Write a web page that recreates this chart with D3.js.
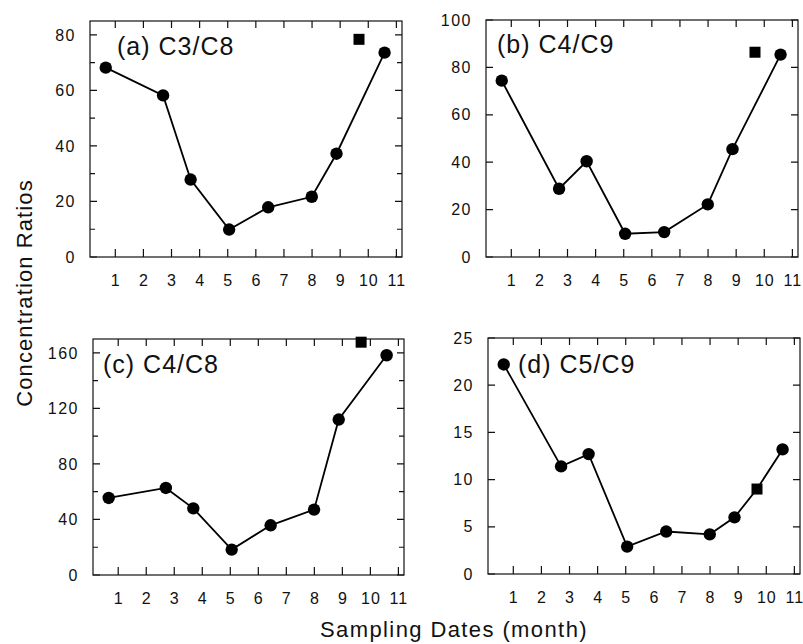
<!DOCTYPE html>
<html>
<head>
<meta charset="utf-8">
<script src="https://cdn.jsdelivr.net/npm/d3@7"></script>
<style>
  html, body { margin: 0; padding: 0; background: #fff; }
  svg { display: block; }
  text { font-family: Arial, "Liberation Sans", Helvetica, sans-serif; fill: #111; }
</style>
</head>
<body>
<svg id="chart" width="803" height="644"></svg>
<script>
// Sampling dates (month index) shared by all four ratios
const sampleMonths = [0.66, 2.70, 3.68, 5.05, 6.44, 7.99, 8.87, 10.58];
// Extra sample (square marker) taken between months 9 and 11
const extraMonth = 9.67;
const monthTicks = [1, 2, 3, 4, 5, 6, 7, 8, 9, 10, 11];

// Concentration ratios per panel
const ratioC3C8 = [68.2, 58.2, 27.9, 9.9, 17.9, 21.7, 37.2, 73.6];
const ratioC4C9 = [74.4, 28.8, 40.4, 9.8, 10.5, 22.2, 45.5, 85.4];
const ratioC4C8 = [55.5, 62.7, 48.0, 18.3, 35.8, 47.1, 112.0, 158.3];
const ratioC5C9 = [22.2, 11.4, 12.7, 2.9, 4.5, 4.2, 6.0, 13.2];
// Value of the extra sample for each ratio
const extraValues = [78.4, 86.4, 167.7, 9.0];

const panelTitles = ["(a) C3/C8", "(b) C4/C9", "(c) C4/C8", "(d) C5/C9"];
const yMax = [85, 100, 170, 25];
const yTickLabels = [[0, 20, 40, 60, 80], [0, 20, 40, 60, 80, 100], [0, 40, 80, 120, 160], [0, 5, 10, 15, 20, 25]];
const yMinorTicks = [[10, 30, 50, 70], [], [20, 60, 100, 140], []];
// Whether the extra sample is joined into the line
const extraJoined = [false, false, false, true];

// Frame of each panel in the page
const layout = [
  { x: 90,  y: 21,  w: 312, h: 236, tx: 27, ty: 34 },
  { x: 486, y: 20,  w: 312, h: 237, tx: 11, ty: 33 },
  { x: 93,  y: 339, w: 311, h: 236, tx: 10, ty: 34 },
  { x: 488, y: 338, w: 312, h: 236, tx: 30, ty: 35 }
];

const series = [ratioC3C8, ratioC4C9, ratioC4C8, ratioC5C9];
const svg = d3.select("#chart");
const tickColor = "#111";

series.forEach((vals, i) => {
  const L = layout[i];
  const g = svg.append("g").attr("transform", `translate(${L.x},${L.y})`);
  const x = d3.scaleLinear().domain([0.1, 11.2]).range([0, L.w]);
  const y = d3.scaleLinear().domain([0, yMax[i]]).range([L.h, 0]);

  // frame
  g.append("rect").attr("width", L.w).attr("height", L.h)
    .attr("fill", "none").attr("stroke", tickColor).attr("stroke-width", 1.2);

  // inward tick marks on all four sides
  const majorY = yTickLabels[i], minorY = yMinorTicks[i];
  let d = "";
  monthTicks.forEach(t => {
    const px = x(t);
    d += `M${px},${L.h}V${L.h - 8}M${px},0V7`;
  });
  majorY.forEach(v => { const py = y(v); d += `M0,${py}H7M${L.w},${py}H${L.w - 7}`; });
  minorY.forEach(v => { const py = y(v); d += `M0,${py}H5M${L.w},${py}H${L.w - 5}`; });
  g.append("path").attr("d", d).attr("fill", "none")
    .attr("stroke", tickColor).attr("stroke-width", 1.2);

  // tick labels from the axis generators
  const xb = g.append("g").attr("transform", `translate(0,${L.h})`)
    .call(d3.axisBottom(x).tickValues(monthTicks).tickSize(0).tickPadding(18));
  const yl = g.append("g")
    .call(d3.axisLeft(y).tickValues(majorY).tickSize(0).tickPadding(14));
  xb.select(".domain").remove();
  yl.select(".domain").remove();
  [xb, yl].forEach(a => a.selectAll(".tick text").attr("font-size", 16).attr("fill", "#111")
    .attr("font-family", "Arial, 'Liberation Sans', sans-serif"));
  xb.selectAll(".tick text").attr("letter-spacing", 1);
  yl.selectAll(".tick text").attr("letter-spacing", 1.5);

  // line through the samples
  let pts = sampleMonths.map((m, k) => ({ m, v: vals[k] }));
  if (extraJoined[i]) {
    pts = pts.concat([{ m: extraMonth, v: extraValues[i] }]).sort((a, b) => a.m - b.m);
  }
  const line = d3.line().x(p => x(p.m)).y(p => y(p.v));
  g.append("path").datum(pts).attr("d", line)
    .attr("fill", "none").attr("stroke", "#000").attr("stroke-width", 1.8);

  g.selectAll("circle.pt").data(sampleMonths.map((m, k) => ({ m, v: vals[k] })))
    .join("circle").attr("class", "pt")
    .attr("cx", p => x(p.m)).attr("cy", p => y(p.v)).attr("r", 6.2).attr("fill", "#000");

  const sq = 11;
  g.append("rect")
    .attr("x", x(extraMonth) - sq / 2).attr("y", y(extraValues[i]) - sq / 2)
    .attr("width", sq).attr("height", sq).attr("fill", "#000");

  g.append("text").attr("x", L.tx).attr("y", L.ty)
    .attr("font-size", 25).attr("letter-spacing", 1).text(panelTitles[i]);
});

svg.append("text")
  .attr("transform", "translate(32,293) rotate(-90)")
  .attr("text-anchor", "middle").attr("font-size", 22).attr("letter-spacing", 1.1)
  .text("Concentration Ratios");

svg.append("text")
  .attr("x", 454).attr("y", 637)
  .attr("text-anchor", "middle").attr("font-size", 22).attr("letter-spacing", 1.4)
  .text("Sampling Dates (month)");
</script>
</body>
</html>
